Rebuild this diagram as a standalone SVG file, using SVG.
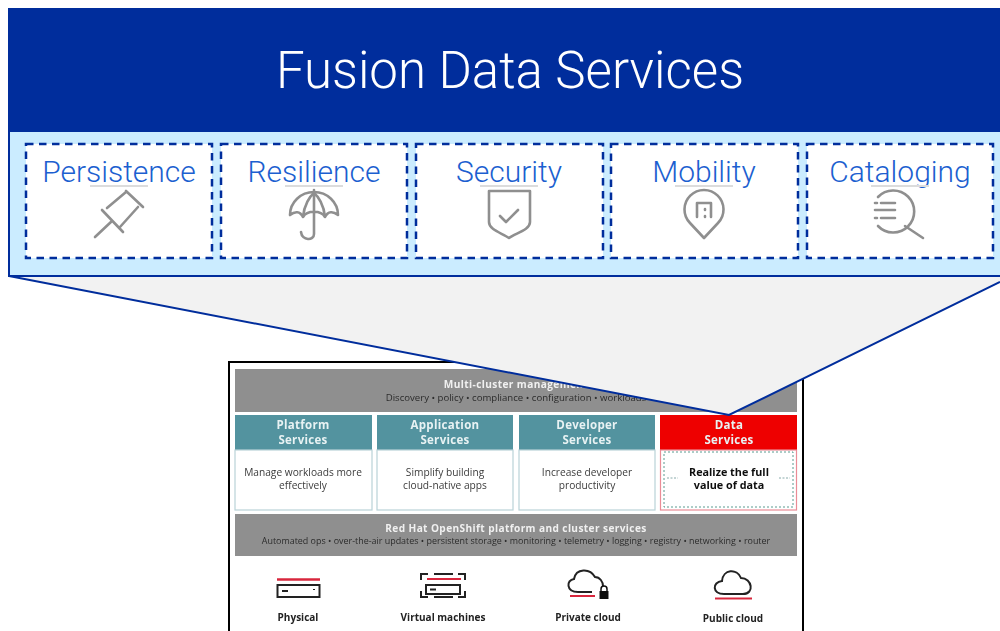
<svg xmlns="http://www.w3.org/2000/svg" width="1000" height="631" viewBox="0 0 1000 631">
<style>
text{font-family:"Open Sans","Noto Sans","Liberation Sans",sans-serif;text-anchor:middle}
.cap{font-family:Roboto,"Liberation Sans",sans-serif;font-weight:300;font-size:30px;fill:#1c5fd0}
.card{fill:#fff;stroke:#002d9c;stroke-width:2.5;stroke-dasharray:7.5 5.5}
.ic{fill:none;stroke:#8f8f8f;stroke-width:2.6;stroke-linecap:round;stroke-linejoin:round}
.rule{stroke:#dcdcdc;stroke-width:2}
.band{fill:#8f8f8f}
.teal{fill:#52939f}
.body{fill:#fff;stroke:#b9d3d8;stroke-width:1.2}
.h{font-size:11.5px;font-weight:700;fill:#e8f2f3;letter-spacing:.3px}
.b{font-size:10.2px;fill:#3c3c3c}
.bb{font-size:10.8px;font-weight:700;fill:#111}
.w{font-size:10.1px;font-weight:700;fill:#f0f0f0;letter-spacing:.4px}
.s{font-size:9.6px;fill:#2c2c2c}
.s2{font-size:8.93px;fill:#2c2c2c}
.l{font-size:10px;font-weight:700;fill:#222}
.k{fill:none;stroke:#222;stroke-width:2}
.r{fill:none;stroke:#d8283c;stroke-width:2}
</style>
<defs><filter id="soft" x="-2%" y="-2%" width="104%" height="104%"><feGaussianBlur stdDeviation="0.6"/></filter></defs>
<rect width="1000" height="631" fill="#fff"/>
<g id="overview" filter="url(#soft)">
<rect x="235" y="369" width="562" height="43" class="band"/>
<text x="516" y="388" class="w">Multi-cluster management</text>
<text x="516" y="401" class="s">Discovery • policy • compliance • configuration • workloads</text>
<g id="platform"><rect x="235" y="415" width="137" height="35" class="teal"/><rect x="235" y="450" width="137" height="60" class="body"/>
<text x="303" y="429" class="h">Platform</text><text x="303" y="444" class="h">Services</text>
<text x="303" y="476" class="b">Manage workloads more</text><text x="303" y="489" class="b">effectively</text></g>
<g id="application"><rect x="377" y="415" width="136" height="35" class="teal"/><rect x="377" y="450" width="136" height="60" class="body"/>
<text x="445" y="429" class="h">Application</text><text x="445" y="444" class="h">Services</text>
<text x="445" y="476" class="b">Simplify building</text><text x="445" y="489" class="b">cloud-native apps</text></g>
<g id="developer"><rect x="519" y="415" width="136" height="35" class="teal"/><rect x="519" y="450" width="136" height="60" class="body"/>
<text x="587" y="429" class="h">Developer</text><text x="587" y="444" class="h">Services</text>
<text x="587" y="476" class="b">Increase developer</text><text x="587" y="489" class="b">productivity</text></g>
<g id="data"><rect x="660" y="415" width="137" height="35" fill="#ee0000"/><rect x="660.500" y="450" width="136" height="60" fill="#fff" stroke="#ea8c96" stroke-width="1.200"/>
<rect x="664" y="452" width="129" height="55" fill="#fff" stroke="#5a9a90" stroke-width="1" stroke-dasharray="2 2"/>
<path d="M667 478h11M779 478h11" stroke="#8aa" stroke-width="1" stroke-dasharray="2 1.500"/>
<text x="729" y="429" class="h">Data</text><text x="729" y="444" class="h">Services</text>
<text x="729" y="476" class="bb">Realize the full</text><text x="729" y="489" class="bb">value of data</text></g>
<rect x="235" y="514" width="562" height="42" class="band"/>
<text x="516" y="532" class="w">Red Hat OpenShift platform and cluster services</text>
<text x="516" y="544" class="s2">Automated ops • over-the-air updates • persistent storage • monitoring • telemetry • logging • registry • networking • router</text>
<g id="physical"><path d="M277 579.500h43" stroke="#d8283c" stroke-width="2.500"/><rect x="277.500" y="585" width="42" height="12" class="k"/><path d="M282 591h6M314 589v1" class="k"/><text x="298" y="621" class="l">Physical</text></g>
<g id="vms"><path d="M421 580v-6h7M458 574h7v6M421 591v6h7M458 597h7v-6M434 574h19M434 597h19" class="k"/><path d="M427 579h34" stroke="#d8283c" stroke-width="2"/><rect x="426" y="585" width="34" height="9" class="k"/><path d="M430 589.500h6" class="k"/><text x="443" y="621" class="l">Virtual machines</text></g>
<g id="private"><path d="M592 592H578C566 592 566 580 574 579C576 568 590 568 595 577C600 577 603 582 603 586" class="k"/><path d="M570 596h25" class="r"/><rect x="599.500" y="591" width="9" height="8" fill="#111"/><path d="M601 591v-2a3 3 0 0 1 6 0v2" fill="none" stroke="#111" stroke-width="1.500"/><text x="588" y="621" class="l">Private cloud</text></g>
<g id="public"><path d="M724 594c-12 0-12-12-2-13 1-12 15-13 19-3 11 0 14 16 2 16z" class="k"/><path d="M715 598.500h37" class="r"/><text x="733" y="622" class="l">Public cloud</text></g>
</g>
<rect id="frame" x="229" y="362" width="574" height="275" fill="none" stroke="#000" stroke-width="2"/>
<g id="connectors"><path d="M9 276L729 415L1000 282V276z" fill="#f2f2f2" stroke="none"/><path d="M9 276L729 415L1000 282" fill="none" stroke="#002d9c" stroke-width="2"/></g>
<g id="panel">
<rect x="9" y="131" width="995" height="145" fill="#cbecff" stroke="#002d9c" stroke-width="2"/>
<rect x="8" y="8" width="992" height="123" fill="#002d9c"/>
<text x="510" y="88" fill="#fff" style="font-family:Roboto,'Liberation Sans',sans-serif;font-weight:300;font-size:51px">Fusion Data Services</text>
</g>
<g id="persistence"><rect x="26" y="144" width="186" height="114" class="card"/><text x="119" y="182" class="cap">Persistence</text><path d="M90 186h58" class="rule"/>
<path class="ic" d="M95 237L112 221M102 210L123 232M107 208L126 192M120 227L138 207M126 191L143 207"/></g>
<g id="resilience"><rect x="221" y="144" width="186" height="114" class="card"/><text x="314" y="182" class="cap">Resilience</text><path d="M285 186h58" class="rule"/>
<path class="ic" d="M290 215A24 23 0 0 1 338 215C333 211 328 211 325 217C321 210 307 210 303 217C300 211 295 211 290 215ZM314 190V234C314 241 302 241 301 232M303 217C304 205 310 196 314 193C318 196 324 205 325 217"/></g>
<g id="security"><rect x="416" y="144" width="187" height="114" class="card"/><text x="509" y="182" class="cap">Security</text><path d="M480 186h58" class="rule"/>
<path class="ic" d="M489 191H530V222C530 230 516 233 509 238C502 233 489 230 489 222ZM500 216L506 222L518 210"/></g>
<g id="mobility"><rect x="611" y="144" width="187" height="114" class="card"/><text x="704" y="182" class="cap">Mobility</text><path d="M675 186h58" class="rule"/>
<path class="ic" d="M704 238L690 223A19.500 19.500 0 1 1 718 223Z"/><path class="ic" d="M697 217V203H711V217M705 209v1M705 216v1"/></g>
<g id="cataloging"><rect x="807" y="144" width="186" height="114" class="card"/><text x="900" y="182" class="cap">Cataloging</text><path d="M871 186h58" class="rule"/>
<path class="ic" d="M878 197A21 21 0 1 1 878 226M905 226L923 238M875 203h2M881 203h14M875 210h20M875 218h2M881 218h14"/></g>
</svg>
